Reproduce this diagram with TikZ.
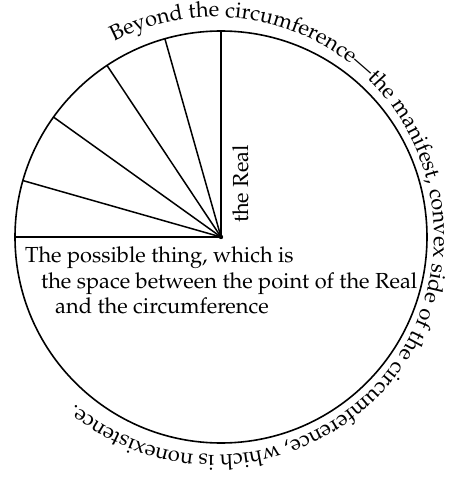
\documentclass[tikz,border=0pt]{standalone}
\usepackage[T1]{fontenc}
\renewcommand{\rmdefault}{ppl}
\usetikzlibrary{decorations.text}
\begin{document}
\begin{tikzpicture}[x=1pt,y=1pt,
  spoke/.style={line width=1.5pt},
  rim/.style={line width=1.6pt},
  lbl/.style={font=\fontsize{21.8}{25}\selectfont, inner sep=0pt, anchor=base west}]
\useasboundingbox (-221,-242) rectangle (232,237);
\coordinate (O) at (0,0);
\draw[rim] (O) circle (206);
\foreach \a/\n in {90/a,105.8/b,123.6/c,144.4/d,164.1/e,180/f} {
  \coordinate (p\n) at (\a:206);
  \draw[spoke] (O) -- (p\n);
}
\fill (O) circle (2.2);
\node[lbl, rotate=90] (real) at (27,14) {the Real};
\node[lbl] (l1) at (-196,-25) {The possible thing, which is};
\node[lbl] (l2) at (-180,-51) {the space between the point of the Real};
\node[lbl] (l3) at (-166,-76) {and the circumference};
\path[decorate, shift={(-6,1)},
  decoration={text along path,
    text={|\fontsize{21.8}{25}\selectfont|Beyond the circumference{\textemdash}the manifest, convex side of the circumference, which is nonexistence.}}]
  (117.5:219) arc[start angle=117.5, end angle=-150, radius=219];
\end{tikzpicture}
\end{document}
